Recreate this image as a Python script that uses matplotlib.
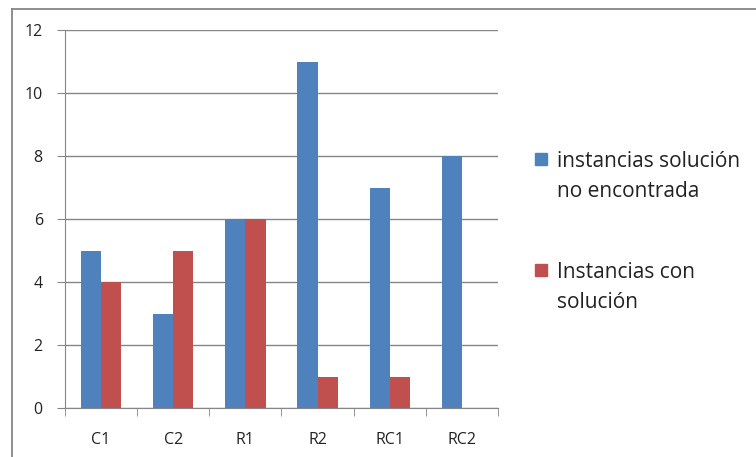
import numpy as np
import matplotlib.pyplot as plt
from matplotlib.lines import Line2D
from matplotlib.patches import Rectangle

categorias = ["C1", "C2", "R1", "R2", "RC1", "RC2"]
no_encontrada = [5, 3, 6, 11, 7, 8]
con_solucion = [4, 5, 6, 1, 1, 0]
etiquetas = ["instancias solución\nno encontrada", "Instancias con\nsolución"]

azul = "#4F81BD"
rojo = "#C0504D"
gris = "#868686"
texto = "#222222"

plt.rcParams["font.family"] = ["Open Sans", "DejaVu Sans"]

W, H = 756, 457
fig = plt.figure(figsize=(W / 100, H / 100), dpi=100)
ax = fig.add_axes([65 / W, 1 - 408 / H, (498 - 65) / W, (408 - 30) / H])

x = np.arange(len(categorias))
w = 0.28
ax.bar(x - w / 2, no_encontrada, w, color=azul, zorder=3)
ax.bar(x + w / 2, con_solucion, w, color=rojo, zorder=3)

ax.set_xlim(-0.5, len(categorias) - 0.5)
ax.set_ylim(0, 12)
ax.set_yticks(range(0, 13, 2))
ax.yaxis.grid(True, color=gris, linewidth=1, zorder=0)

# category labels centred, tick marks at the boundaries between groups
ax.set_xticks(x)
ax.set_xticklabels(categorias, fontsize=11.5, color=texto)
ax.set_xticks(np.arange(-0.5, len(categorias)), minor=True)
ax.tick_params(axis="x", which="major", length=0, pad=17)
ax.tick_params(axis="x", which="minor", length=6, color=gris, direction="out")
ax.tick_params(axis="y", length=6, color=gris, labelsize=11.5, labelcolor=texto, pad=10)

for s in ["top", "right"]:
    ax.spines[s].set_visible(False)
for s in ["left", "bottom"]:
    ax.spines[s].set_color(gris)

# legend: square aligned with the first line of each label
# (baseline alignment refers to the last line, hence the +30 px)
for color, etiqueta, y0 in [(azul, etiquetas[0], 153), (rojo, etiquetas[1], 264)]:
    fig.add_artist(Rectangle((535 / W, 1 - (y0 + 12) / H), 12 / W, 12 / H,
                             transform=fig.transFigure, color=color))
    fig.text(557 / W, 1 - (y0 + 14 + 30) / H, etiqueta, fontsize=15, color=texto,
             va="baseline", ha="left", linespacing=1.55)

# chart frame (top and left edges)
fig.add_artist(Line2D([12 / W, 12 / W], [0, 1 - 9 / H], transform=fig.transFigure,
                      color=gris, linewidth=1.3))
fig.add_artist(Line2D([12 / W, 1], [1 - 9 / H, 1 - 9 / H], transform=fig.transFigure,
                      color=gris, linewidth=1.3))

fig.savefig("out.png", dpi=100)
